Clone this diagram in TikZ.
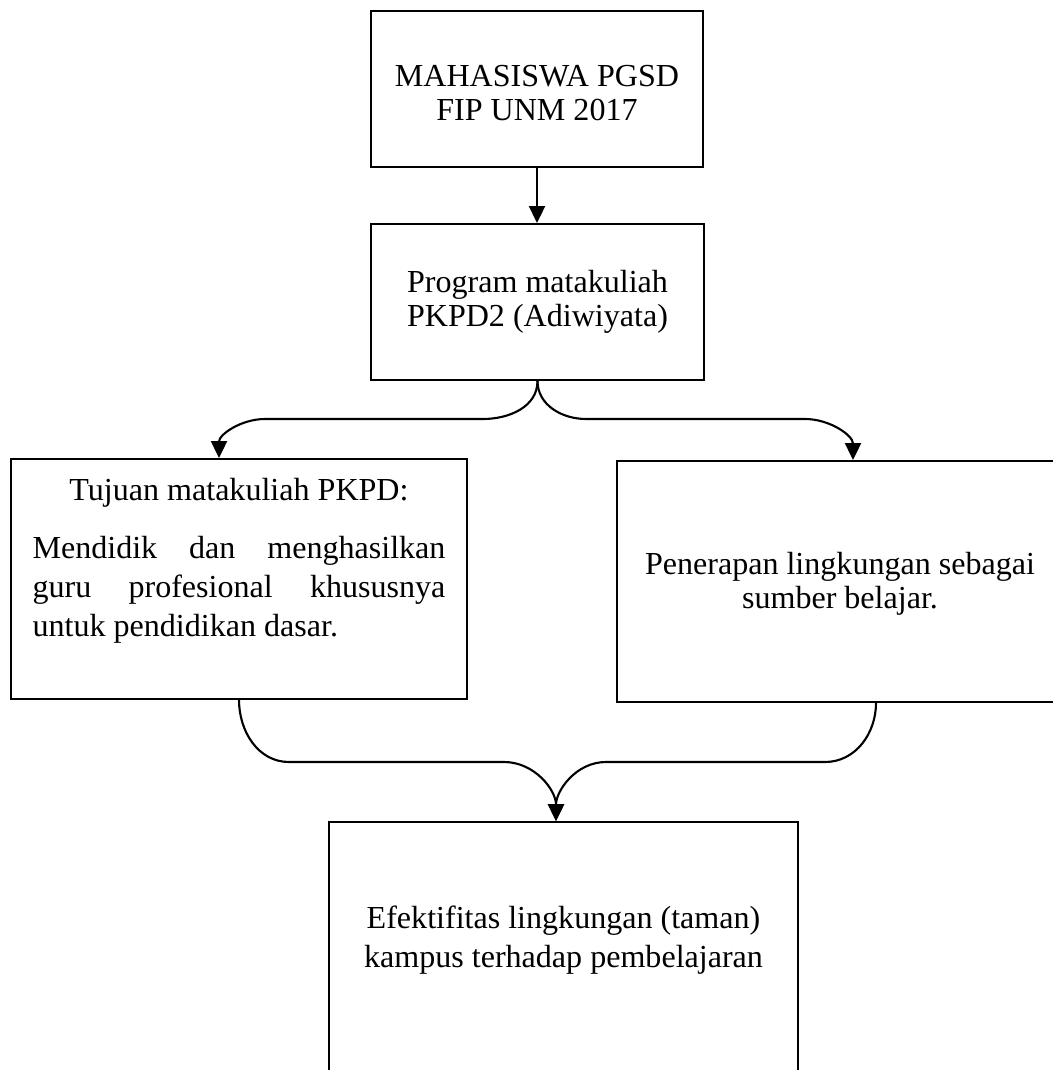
\documentclass[tikz,border=0pt]{standalone}
\usepackage{fontspec}
\setmainfont{Liberation Serif}
\usetikzlibrary{arrows.meta}
\hyphenpenalty=10000
\tolerance=9999
\hbadness=10000
\tikzset{
  block/.style={draw, line width=1.1pt, align=center,
    font=\fontsize{18.25pt}{22.2pt}\selectfont},
  tight/.style={font=\fontsize{18.25pt}{19.3pt}\selectfont},
  link/.style={line width=1.2pt, -{Triangle[length=0.34cm,width=0.32cm]}}
}
\begin{document}
\begin{tikzpicture}[x=0.02cm,y=-0.02cm]
      \clip (0,0) rectangle (1053,1070);
      \node[block, tight, minimum width=6.64cm, minimum height=3.12cm] (mhs) at (537,89)
        {\rule{0pt}{0.6cm}MAHASISWA PGSD\\FIP UNM 2017};
      \node[block, tight, minimum width=6.66cm, minimum height=3.12cm] (prog) at (537.5,302)
        {Program matakuliah\\PKPD2 (Adiwiyata)};
      \node[block, minimum width=9.12cm, minimum height=4.8cm, text width=8.26cm,
        align=justify] (tujuan) at (239,579)
        {{\centering Tujuan matakuliah PKPD:\par}\vspace{0.38cm}Mendidik dan
        menghasilkan guru profesional khususnya untuk pendidikan
        dasar.\rule[-0.88cm]{0pt}{0.88cm}};
      \node[block, tight, minimum width=8.92cm, minimum height=4.82cm] (terap) at (840,581.5)
        {\rule{0pt}{0.55cm}Penerapan lingkungan sebagai\\sumber belajar.};
      \node[block, minimum width=9.38cm, minimum height=5.06cm] (efek) at (563.5,948.5)
        {Efektifitas lingkungan (taman)\\kampus terhadap
        pembelajaran\rule[-0.48cm]{0pt}{0.48cm}};
      % bends of the connectors
      \coordinate (tl1) at (483,419);
      \coordinate (tl2) at (265,419);
      \coordinate (tr1) at (586,419);
      \coordinate (tr2) at (805,419);
      \coordinate (bl1) at (289,762);
      \coordinate (bl2) at (504,762);
      \coordinate (br1) at (825,762);
      \coordinate (br2) at (606,762);
      \begin{scope}[link]
        \draw (mhs.south) to (mhs.south |- prog.north);
        \draw (prog.south) to[out=-90,in=0] (tl1) -- (tl2)
          to[out=180,in=90] ([xshift=-0.4cm]tujuan.north);
        \draw (prog.south) to[out=-90,in=180] (tr1) -- (tr2)
          to[out=0,in=90] ([xshift=0.26cm]terap.north);
        \draw (tujuan.south) to[out=-90,in=180] (bl1) -- (bl2)
          to[out=0,in=90] ([xshift=-0.15cm]efek.north);
        \draw ([xshift=0.72cm]terap.south) to[out=-90,in=0] (br1) -- (br2)
          to[out=180,in=90] ([xshift=-0.15cm]efek.north);
      \end{scope}
    \end{tikzpicture}
\end{document}
